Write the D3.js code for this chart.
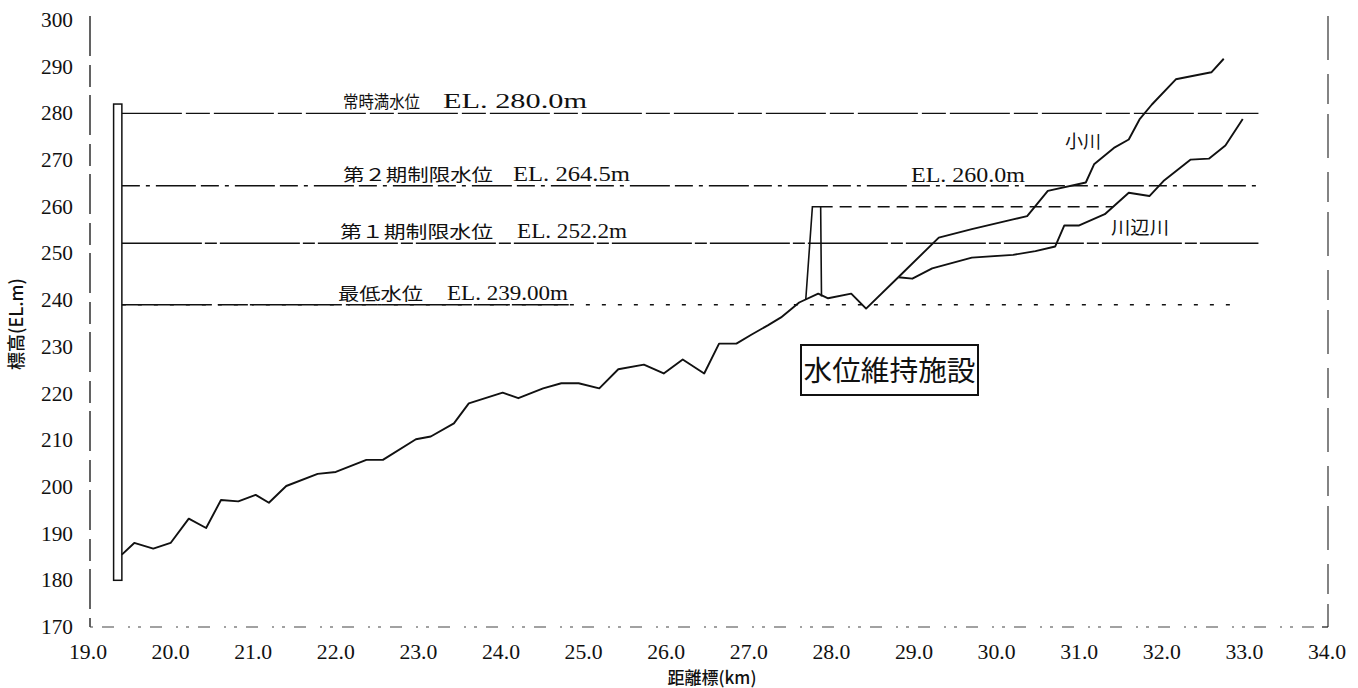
<!DOCTYPE html>
<html>
<head>
<meta charset="utf-8">
<script src="https://cdn.jsdelivr.net/npm/d3@7"></script>
<style>
  html, body { margin: 0; padding: 0; background: #fff; }
  svg { display: block; }
  .num { font-family: "Liberation Serif", "DejaVu Serif", serif; }
  .el  { font-family: "Liberation Serif", "DejaVu Serif", serif; }
  .jp  { font-family: "Noto Sans CJK JP", sans-serif; }
</style>
</head>
<body>
<svg id="chart" width="1358" height="688"></svg>
<script>
// ---- data ----
const yTicks = [170, 180, 190, 200, 210, 220, 230, 240, 250, 260, 270, 280, 290, 300];
const xTicks = [19, 20, 21, 22, 23, 24, 25, 26, 27, 28, 29, 30, 31, 32, 33, 34];

// riverbed profile of the main channel (km, EL.m)
const profileKm = [19.41, 19.56, 19.79, 20.00, 20.22, 20.43, 20.61, 20.82, 21.03, 21.19, 21.40, 21.78, 22.00,
  22.37, 22.57, 22.97, 23.15, 23.43, 23.61, 24.02, 24.21, 24.51, 24.73, 24.94, 25.19, 25.42, 25.73, 25.97,
  26.20, 26.46, 26.64, 26.85, 27.03, 27.23, 27.39, 27.61, 27.84, 27.96, 28.24, 28.42, 28.81];
const profileEl = [185.5, 188.0, 186.8, 188.0, 193.2, 191.2, 197.2, 196.9, 198.3, 196.6, 200.2, 202.8, 203.2,
  205.8, 205.8, 210.2, 210.8, 213.6, 217.9, 220.2, 219.0, 221.1, 222.2, 222.2, 221.1, 225.2, 226.2, 224.3,
  227.3, 224.3, 230.7, 230.7, 232.6, 234.6, 236.3, 239.5, 241.4, 240.4, 241.4, 238.2, 244.9];

// 小川 branch
const ogawaKm = [28.81, 29.30, 29.70, 30.20, 30.37, 30.62, 31.08, 31.18, 31.42, 31.60, 31.73, 31.88, 32.17, 32.60, 32.75];
const ogawaEl = [244.9, 253.4, 255.2, 257.3, 258.0, 263.4, 265.2, 269.1, 272.6, 274.4, 278.7, 281.9, 287.3, 288.8, 291.7];

// 川辺川 branch
const kawabeKm = [28.81, 28.98, 29.22, 29.70, 30.20, 30.47, 30.71, 30.82, 31.00, 31.31, 31.60, 31.85, 32.02, 32.35, 32.57, 32.77, 32.98];
const kawabeEl = [244.9, 244.6, 246.8, 249.1, 249.7, 250.5, 251.5, 256.0, 256.0, 258.4, 263.0, 262.3, 265.5, 270.1, 270.3, 273.1, 278.8];

// water level maintenance facility (weir) and its held level
const weirKm = [27.69, 27.77, 27.87, 27.88];
const weirEl = [240.2, 260.0, 260.0, 240.8];
const heldLevel = 260.0;
const heldLevelKm = [27.87, 31.41];

// dam body
const damKm = [19.31, 19.41];
const damEl = [180, 282];

// reservoir water levels
const levelValues = [280.0, 264.5, 252.2, 239.0];
const levelNames = ["常時満水位", "第２期制限水位", "第１期制限水位", "最低水位"];
const levelTexts = ["EL. 280.0m", "EL. 264.5m", "EL. 252.2m", "EL. 239.00m"];
const levelEndKm = [33.17, 33.17, 33.17, 32.92];

// ---- drawing ----
const svg = d3.select("#chart");
const x = d3.scaleLinear().domain([19, 34]).range([88, 1327]);
const y = d3.scaleLinear().domain([170, 300]).range([627, 20]);

// frame lines (broken, as on the printed sheet)
svg.append("line").attr("x1", 90).attr("x2", 90).attr("y1", y(300) - 4).attr("y2", y(170))
  .attr("stroke", "#222").attr("stroke-width", 1.4).attr("stroke-dasharray", "40,9,22,8");
svg.append("line").attr("x1", 1328).attr("x2", 1328).attr("y1", y(300) - 4).attr("y2", y(170))
  .attr("stroke", "#333").attr("stroke-width", 1.2).attr("stroke-dasharray", "44,14,30,10");
svg.append("line").attr("x1", 90).attr("x2", 1328).attr("y1", y(170)).attr("y2", y(170))
  .attr("stroke", "#444").attr("stroke-width", 1.1).attr("stroke-dasharray", "3,9,12,14,2,8");
svg.append("line").attr("x1", 1322).attr("x2", 1328).attr("y1", y(170)).attr("y2", y(170))
  .attr("stroke", "#222").attr("stroke-width", 1.3);

// y tick labels
svg.append("g").selectAll("text").data(yTicks).join("text")
  .attr("class", "num")
  .attr("x", 73).attr("y", d => y(d) + 7)
  .attr("text-anchor", "end")
  .attr("font-size", 20).attr("fill", "#111")
  .attr("textLength", 32).attr("lengthAdjust", "spacingAndGlyphs")
  .text(d => d);

// x tick labels
svg.append("g").selectAll("text").data(xTicks).join("text")
  .attr("class", "num")
  .attr("x", d => x(d) - 19).attr("y", 659)
  .attr("font-size", 20).attr("fill", "#111")
  .attr("textLength", 38).attr("lengthAdjust", "spacingAndGlyphs")
  .text(d => d3.format(".1f")(d));

// axis titles
svg.append("text")
  .attr("class", "jp")
  .attr("transform", "translate(23,324) rotate(-90)")
  .attr("text-anchor", "middle")
  .attr("font-size", 18).attr("font-weight", 500).attr("fill", "#111")
  .text("標高(EL.m)");
svg.append("text")
  .attr("class", "jp")
  .attr("x", 712).attr("y", 684)
  .attr("text-anchor", "middle")
  .attr("font-size", 17).attr("font-weight", 500).attr("fill", "#111")
  .text("距離標(km)");

// reservoir level lines
const levelDash = ["60,4,24,4", "18,6,4,6,40,5", "80,3,12,3", "4,12"];
levelValues.forEach((v, i) => {
  svg.append("line")
    .attr("x1", x(damKm[1])).attr("x2", x(levelEndKm[i]))
    .attr("y1", y(v)).attr("y2", y(v))
    .attr("stroke", "#111").attr("stroke-width", 1.4)
    .attr("stroke-dasharray", levelDash[i]);
});
// solid stretch of the lowest level line near the dam and under its caption
svg.append("line")
  .attr("x1", x(damKm[1])).attr("x2", x(24.82))
  .attr("y1", y(levelValues[3])).attr("y2", y(levelValues[3]))
  .attr("stroke", "#111").attr("stroke-width", 1.4).attr("stroke-dasharray", "90,6,30,4");

// captions of the level lines
const nameX = [343, 343, 340, 338];
const nameW = [77, 150, 153, 85];
const elX = [443, 513, 517, 447];
const elW = [144, 117, 110, 121];
levelValues.forEach((v, i) => {
  svg.append("text")
    .attr("class", "jp")
    .attr("x", nameX[i]).attr("y", y(v) - 5)
    .attr("font-size", 17).attr("fill", "#111")
    .attr("textLength", nameW[i]).attr("lengthAdjust", "spacingAndGlyphs")
    .text(levelNames[i]);
  svg.append("text")
    .attr("class", "el")
    .attr("x", elX[i]).attr("y", y(v) - 5)
    .attr("font-size", 20).attr("fill", "#111")
    .attr("textLength", elW[i]).attr("lengthAdjust", "spacingAndGlyphs")
    .text(levelTexts[i]);
});

// dam body
svg.append("rect")
  .attr("x", x(damKm[0])).attr("y", y(damEl[1]))
  .attr("width", x(damKm[1]) - x(damKm[0])).attr("height", y(damEl[0]) - y(damEl[1]))
  .attr("fill", "#fff").attr("stroke", "#111").attr("stroke-width", 1.5);

// riverbed lines
const line = d3.line().x(d => x(d[0])).y(d => y(d[1]));
const zip = (a, b) => a.map((v, i) => [v, b[i]]);
const bedStyle = sel => sel.attr("fill", "none").attr("stroke", "#111")
  .attr("stroke-width", 1.9).attr("stroke-linejoin", "round");

svg.append("path").datum(zip(profileKm, profileEl)).attr("d", line).call(bedStyle);
svg.append("path").datum(zip(ogawaKm, ogawaEl)).attr("d", line).call(bedStyle);
svg.append("path").datum(zip(kawabeKm, kawabeEl)).attr("d", line).call(bedStyle);

// weir and held water level
svg.append("path").datum(zip(weirKm, weirEl)).attr("d", line)
  .attr("fill", "none").attr("stroke", "#111").attr("stroke-width", 1.6);
svg.append("line")
  .attr("x1", x(heldLevelKm[0])).attr("x2", x(heldLevelKm[1]))
  .attr("y1", y(heldLevel)).attr("y2", y(heldLevel))
  .attr("stroke", "#111").attr("stroke-width", 1.6).attr("stroke-dasharray", "12,7");

// facility label box
const box = svg.append("g");
box.append("rect").attr("x", 801).attr("y", 345).attr("width", 177).attr("height", 50)
  .attr("fill", "#fff").attr("stroke", "#111").attr("stroke-width", 2);
box.append("text").attr("class", "jp").attr("x", 889.5).attr("y", 381)
  .attr("text-anchor", "middle")
  .attr("font-size", 28).attr("fill", "#111")
  .attr("textLength", 172).attr("lengthAdjust", "spacingAndGlyphs")
  .text("水位維持施設");

// other captions
svg.append("text").attr("class", "el").attr("x", 911).attr("y", y(264.5) - 4)
  .attr("font-size", 20).attr("fill", "#111")
  .attr("textLength", 114).attr("lengthAdjust", "spacingAndGlyphs")
  .text("EL. 260.0m");
svg.append("text").attr("class", "jp").attr("x", 1065).attr("y", 148)
  .attr("font-size", 18).attr("fill", "#111")
  .text("小川");
svg.append("text").attr("class", "jp").attr("x", 1111).attr("y", 234)
  .attr("font-size", 18).attr("fill", "#111")
  .attr("textLength", 58).attr("lengthAdjust", "spacingAndGlyphs")
  .text("川辺川");
</script>
</body>
</html>
